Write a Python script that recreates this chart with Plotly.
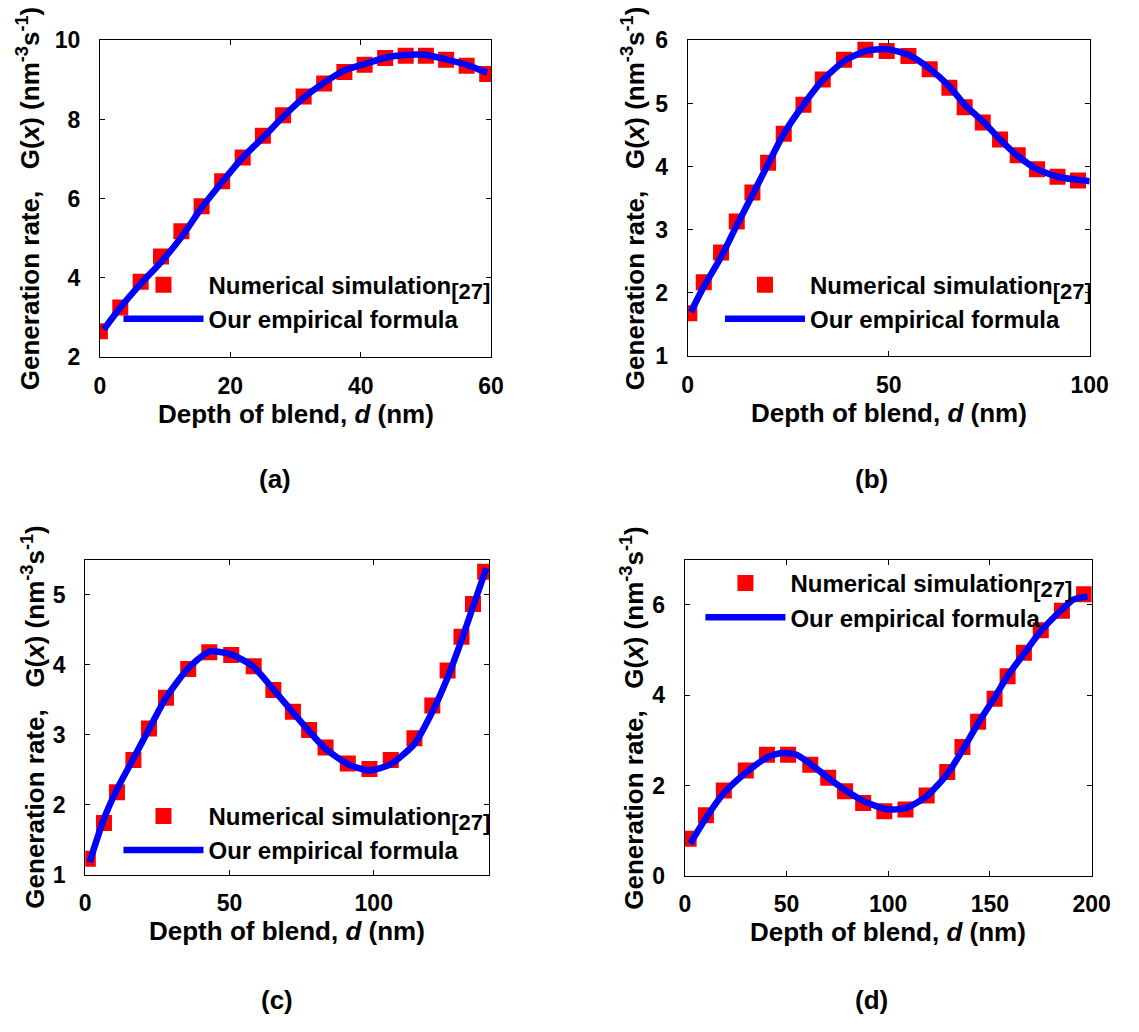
import plotly.graph_objects as go

# ---------------- data ----------------
# (a) d = 0..60 nm
a_sim_x = [0, 3.125, 6.25, 9.375, 12.5, 15.6, 18.75, 21.9, 25, 28.1, 31.25, 34.4,
           37.5, 40.6, 43.75, 46.9, 50, 53.1, 56.25, 59.4]
a_sim_y = [2.65, 3.25, 3.90, 4.54, 5.18, 5.81, 6.44, 7.04, 7.59, 8.11, 8.58, 8.91,
           9.20, 9.38, 9.55, 9.61, 9.61, 9.51, 9.36, 9.15]
a_fit_x = [0.6, 3.125, 6.25, 9.375, 12.5, 15.6, 18.75, 21.9, 25, 28.1, 31.25, 34.4,
           37.5, 40.6, 43.75, 46.9, 50, 53.1, 56.25, 59.4]
a_fit_y = [2.70, 3.25, 3.85, 4.40, 5.03, 5.77, 6.42, 7.04, 7.54, 8.07, 8.55, 8.93,
           9.24, 9.40, 9.56, 9.63, 9.63, 9.52, 9.38, 9.18]

# (b) d = 0..100 nm
b_sim_x = [0.4, 4.0, 8.3, 12.2, 16.1, 20, 23.9, 28.8, 33.6, 38.9, 44.2, 49.5,
           54.9, 60.2, 65.1, 68.9, 73.4, 77.7, 82.1, 86.9, 92, 97.1]
b_sim_y = [1.68, 2.17, 2.64, 3.13, 3.59, 4.06, 4.52, 4.98, 5.38, 5.69, 5.85, 5.83,
           5.75, 5.54, 5.25, 4.94, 4.70, 4.43, 4.18, 3.96, 3.84, 3.78]
b_fit_x = [0.8, 4.0, 8.3, 12.2, 16.1, 20, 23.9, 28.8, 33.6, 38.9, 44.2, 49.5,
           54.9, 60.2, 65.1, 68.9, 73.4, 77.7, 82.1, 86.9, 92, 97.1, 100]
b_fit_y = [1.70, 2.10, 2.57, 3.07, 3.55, 4.04, 4.52, 4.98, 5.37, 5.67, 5.83, 5.86,
           5.77, 5.55, 5.27, 4.98, 4.72, 4.43, 4.17, 3.96, 3.84, 3.79, 3.77]

# (c) d = 0..140 nm
c_sim_x = [0.9, 6.5, 11, 16.7, 22.1, 28, 35.7, 43, 50.6, 58.4, 65.2, 72, 77.6,
           83.3, 91, 98.5, 105.9, 114.1, 120.3, 125.6, 130.4, 134.4, 138.6]
c_sim_y = [1.23, 1.74, 2.18, 2.64, 3.09, 3.53, 3.94, 4.18, 4.14, 3.98, 3.64, 3.33,
           3.07, 2.82, 2.59, 2.51, 2.64, 2.95, 3.42, 3.92, 4.40, 4.87, 5.33]
c_fit_x = [1.5, 6.5, 11, 16.7, 22.1, 28, 35.7, 43, 50.6, 58.4, 65.2, 72, 77.6,
           83.3, 91, 98.5, 105.9, 114.1, 120.3, 125.6, 130.4, 134.4, 139]
c_fit_y = [1.18, 1.80, 2.22, 2.66, 3.08, 3.53, 3.95, 4.19, 4.15, 3.97, 3.65, 3.32,
           3.05, 2.80, 2.58, 2.49, 2.58, 2.87, 3.33, 3.82, 4.35, 4.83, 5.38]

# (d) d = 0..200 nm
d_sim_x = [1.9, 10.4, 19.2, 30, 40.4, 50.8, 61.7, 70.5, 78.8, 87.7, 98.1, 108.5,
           118.9, 129, 136.5, 144.2, 152.3, 158.7, 166.7, 175, 185.4, 196.3]
d_sim_y = [0.82, 1.34, 1.89, 2.33, 2.68, 2.68, 2.46, 2.17, 1.87, 1.61, 1.43, 1.47,
           1.78, 2.30, 2.85, 3.41, 3.92, 4.42, 4.94, 5.44, 5.87, 6.24]
d_fit_x = [2.7, 10.4, 19.2, 30, 40.4, 47.5, 55, 61.7, 70.5, 78.8, 87.7, 98.1, 104,
           110, 118.9, 129, 136.5, 144.2, 152.3, 158.7, 166.7, 175, 185.4, 191, 198]
d_fit_y = [0.71, 1.28, 1.83, 2.28, 2.62, 2.72, 2.68, 2.48, 2.17, 1.90, 1.66, 1.48,
           1.47, 1.52, 1.76, 2.25, 2.78, 3.38, 3.95, 4.43, 4.92, 5.42, 5.90, 6.12, 6.19]

panel_labels = ["(a)", "(b)", "(c)", "(d)"]
x_ranges = [[0, 60], [0, 100], [0, 140], [0, 200]]
y_ranges = [[2, 10], [1, 6], [1, 5.5], [0, 7]]
x_dticks = [20, 50, 50, 50]
y_dticks = [2, 1, 1, 2]

sim_name = ("Numerical simulation<sub><span style='font-size:22px'>[27]"
            "</span></sub>")
fit_name = "Our empirical formula"
x_title = "Depth of blend, <i>d</i> (nm)"
y_title = ("Generation rate,\u00a0\u00a0\u00a0G(<i>x</i>) "
           "(nm<sup>-3</sup>s<sup>-1</sup>)")

# ---------------- layout geometry (pixels) ----------------
W, H = 1139, 1032
FONT = "Liberation Sans, Arial, sans-serif"

# plot boxes: left, right, top, bottom
boxes = [(96, 496, 28, 353), (697, 1108, 28, 352),
         (81, 494, 561, 884), (694, 1110, 561, 885)]
# legend anchor (left, top)
legend_pos = [(115, 256), (730, 256), (115, 801), (710, 562)]
ytitle_x = [23, 641, 28, 641]
xtitle_dy = 58
label_y = [478, 478, 1012, 1012]
label_x = [275, 885, 277, 885]


def fx(p):
    return p / W


def fy(p):
    return 1 - p / H


series = [
    (a_sim_x, a_sim_y, a_fit_x, a_fit_y),
    (b_sim_x, b_sim_y, b_fit_x, b_fit_y),
    (c_sim_x, c_sim_y, c_fit_x, c_fit_y),
    (d_sim_x, d_sim_y, d_fit_x, d_fit_y),
]

fig = go.Figure()
layout = dict(
    width=W, height=H,
    margin=dict(l=0, r=0, t=0, b=0),
    paper_bgcolor="white", plot_bgcolor="white",
    font=dict(family=FONT, color="black"),
    showlegend=True,
)

annotations = []
for i, (sx, sy, lx, ly) in enumerate(series):
    n = "" if i == 0 else str(i + 1)
    xa, ya = "x" + n, "y" + n
    leg = "legend" + n
    fig.add_trace(go.Scatter(
        x=sx, y=sy, mode="markers", name=sim_name,
        marker=dict(symbol="square", size=16, color="#FF0000"),
        xaxis=xa, yaxis=ya, legend=leg, legendgroup="sim" + n,
    ))
    fig.add_trace(go.Scatter(
        x=lx, y=ly, mode="lines", name=fit_name,
        line=dict(color="#0000FF", width=6.5, shape="spline", smoothing=0.6),
        xaxis=xa, yaxis=ya, legend=leg, legendgroup="fit" + n,
    ))

    l, r, t, b = boxes[i]
    common = dict(
        showline=True, linecolor="black", linewidth=1, mirror="ticks",
        ticks="inside", ticklen=5, tickcolor="black", tickwidth=1,
        showgrid=False, zeroline=False,
        tickfont=dict(family=FONT, size=23, color="black", weight="bold"),
    )
    layout["xaxis" + n] = dict(
        common, domain=[fx(l), fx(r)], range=x_ranges[i], dtick=x_dticks[i],
        tick0=0, anchor=ya, ticklabelstandoff=8,
    )
    layout["yaxis" + n] = dict(
        common, domain=[fy(b), fy(t)], range=y_ranges[i], dtick=y_dticks[i],
        tick0=0, anchor=xa, ticklabelstandoff=14,
    )
    lx0, ly0 = legend_pos[i]
    layout[leg] = dict(
        x=fx(lx0), y=fy(ly0), xanchor="left", yanchor="top",
        bgcolor="rgba(0,0,0,0)", borderwidth=0,
        font=dict(family=FONT, size=24, color="black", weight="bold"),
        itemwidth=80, tracegroupgap=0, traceorder="grouped",
    )

    annotations.append(dict(
        text=x_title, x=fx((l + r) / 2), y=fy(b + xtitle_dy),
        xref="paper", yref="paper", showarrow=False,
        xanchor="center", yanchor="middle",
        font=dict(family=FONT, size=26, color="black", weight="bold"),
    ))
    annotations.append(dict(
        text=y_title, x=fx(ytitle_x[i]), y=fy((t + b) / 2),
        xref="paper", yref="paper", showarrow=False, textangle=-90,
        xanchor="center", yanchor="middle",
        font=dict(family=FONT, size=26, color="black", weight="bold"),
    ))
    annotations.append(dict(
        text=panel_labels[i], x=fx(label_x[i]), y=fy(label_y[i]),
        xref="paper", yref="paper", showarrow=False,
        xanchor="center", yanchor="middle",
        font=dict(family=FONT, size=26, color="black", weight="bold"),
    ))

layout["annotations"] = annotations
fig.update_layout(**layout)
fig.write_html("out.html")
